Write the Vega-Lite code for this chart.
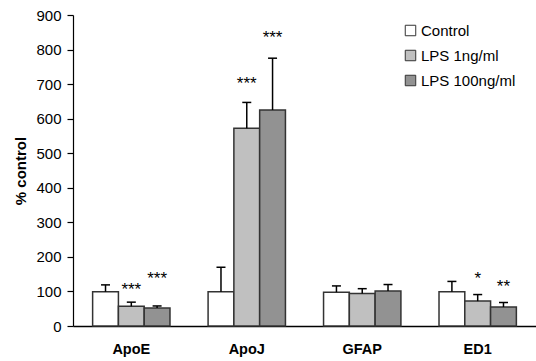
{
  "$schema": "https://vega.github.io/schema/vega-lite/v6.json",
  "width": 463,
  "height": 311,
  "autosize": {"type": "none"},
  "padding": {"left": 73, "top": 15, "right": 0, "bottom": 35},
  "background": "white",
  "config": {
    "view": {"stroke": null},
    "font": "Liberation Sans",
    "axis": {"domainColor": "#000", "domainWidth": 1.2, "tickColor": "#000", "labelColor": "#000", "titleColor": "#000", "grid": false}
  },
  "data": {
    "values": [
      {"gene": "ApoE", "group": "Control", "value": 99, "err": 119, "sig": "", "sig_y": null},
      {"gene": "ApoE", "group": "LPS 1ng/ml", "value": 57, "err": 69, "sig": "***", "sig_y": 116},
      {"gene": "ApoE", "group": "LPS 100ng/ml", "value": 52, "err": 58, "sig": "***", "sig_y": 148},
      {"gene": "ApoJ", "group": "Control", "value": 99, "err": 170, "sig": "", "sig_y": null},
      {"gene": "ApoJ", "group": "LPS 1ng/ml", "value": 572, "err": 647, "sig": "***", "sig_y": 711},
      {"gene": "ApoJ", "group": "LPS 100ng/ml", "value": 625, "err": 775, "sig": "***", "sig_y": 845},
      {"gene": "GFAP", "group": "Control", "value": 98, "err": 116, "sig": "", "sig_y": null},
      {"gene": "GFAP", "group": "LPS 1ng/ml", "value": 94, "err": 108, "sig": "", "sig_y": null},
      {"gene": "GFAP", "group": "LPS 100ng/ml", "value": 101, "err": 120, "sig": "", "sig_y": null},
      {"gene": "ED1", "group": "Control", "value": 99, "err": 129, "sig": "", "sig_y": null},
      {"gene": "ED1", "group": "LPS 1ng/ml", "value": 72, "err": 91, "sig": "*", "sig_y": 147},
      {"gene": "ED1", "group": "LPS 100ng/ml", "value": 55, "err": 68, "sig": "**", "sig_y": 123}
    ]
  },
  "encoding": {
    "x": {
      "field": "gene", "type": "nominal", "sort": ["ApoE", "ApoJ", "GFAP", "ED1"],
      "scale": {"paddingInner": 0.33, "paddingOuter": 0.17},
      "axis": {"title": null, "labelAngle": 0, "ticks": false, "labelPadding": 16, "labelFont": "Liberation Sans", "labelFontSize": 14.5, "labelFontWeight": "bold", "domainWidth": 1.5}
    },
    "xOffset": {"field": "group", "type": "nominal", "sort": ["Control", "LPS 1ng/ml", "LPS 100ng/ml"], "scale": {"paddingInner": 0, "paddingOuter": 0}}
  },
  "layer": [
    {
      "mark": {"type": "bar", "stroke": "#333", "strokeWidth": 1.5},
      "encoding": {
        "y": {
          "field": "value", "type": "quantitative",
          "scale": {"domain": [0, 900], "nice": false},
          "axis": {"tickCount": 9, "labelOverlap": false, "labelBound": false, "labelFlush": false, "title": "% control", "titleFontSize": 15, "titleFontWeight": "bold", "titlePadding": 7, "labelFontSize": 15, "labelPadding": 6, "tickSize": 6, "tickWidth": 1.2}
        },
        "fill": {
          "field": "group", "type": "nominal", "sort": ["Control", "LPS 1ng/ml", "LPS 100ng/ml"],
          "scale": {"domain": ["Control", "LPS 1ng/ml", "LPS 100ng/ml"], "range": ["#ffffff", "#c0c0c0", "#929292"]},
          "legend": {
            "title": null, "orient": "none", "legendX": 330, "legendY": 8,
            "symbolType": "square", "symbolSize": 110, "symbolStrokeColor": "#333", "symbolStrokeWidth": 1, "symbolOpacity": 1,
            "labelFont": "Liberation Sans", "labelFontSize": 15, "labelColor": "#000", "labelOffset": 3, "rowPadding": 9
          }
        }
      }
    },
    {
      "mark": {"type": "rule", "color": "#000", "strokeWidth": 1.5},
      "encoding": {
        "y": {"field": "value", "type": "quantitative"},
        "y2": {"field": "err"}
      }
    },
    {
      "mark": {"type": "tick", "orient": "horizontal", "color": "#000", "size": 9, "thickness": 1.5, "opacity": 1},
      "encoding": {
        "y": {"field": "err", "type": "quantitative"}
      }
    },
    {
      "transform": [{"filter": "datum.sig != ''"}],
      "mark": {"type": "text", "fontSize": 17, "color": "#000", "baseline": "middle", "dy": 4},
      "encoding": {
        "y": {"field": "sig_y", "type": "quantitative"},
        "text": {"field": "sig"}
      }
    }
  ]
}
